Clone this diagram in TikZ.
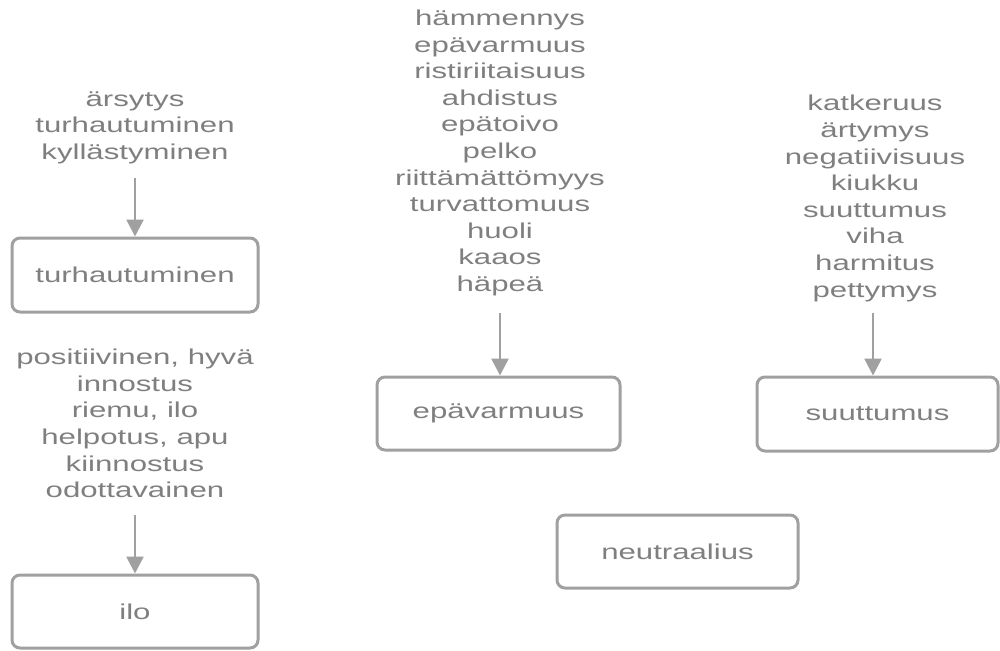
\documentclass[tikz,border=0pt]{standalone}
\usepackage{fontspec}
\setmainfont{Liberation Sans}[FakeStretch=1.45]
\usetikzlibrary{arrows.meta}
\definecolor{txt}{HTML}{7F7F7F}
\definecolor{ln}{HTML}{A0A0A0}
\tikzset{
  lbl/.style={text=txt, align=center, inner sep=0pt, font=\fontsize{21.5}{26.6}\selectfont},
  emobox/.style={draw=ln, line width=3pt, rounded corners=8pt, text=txt, inner sep=0pt, font=\fontsize{21.5}{26.6}\selectfont},
  arr/.style={draw=ln, line width=2.5pt, -{Triangle[length=17pt,width=17pt]}}
}
\begin{document}
\begin{tikzpicture}[x=1pt,y=-1pt]
\useasboundingbox (0,0) rectangle (1000,650);
% boxes
\node[emobox, minimum width=246pt, minimum height=74pt] (b1) at (135,275) {turhautuminen};
\node[emobox, minimum width=246pt, minimum height=73pt] (b2) at (135,611.5) {ilo};
\node[emobox, minimum width=243pt, minimum height=73pt] (b3) at (498.5,413.5) {epävarmuus};
\node[emobox, minimum width=241pt, minimum height=74pt] (b4) at (877.5,414) {suuttumus};
\node[emobox, minimum width=241pt, minimum height=73pt] (b5) at (677.5,551.5) {neutraalius};
% text groups
\node[lbl] (t1) at (135,127.5) {ärsytys\\turhautuminen\\kyllästyminen};
\node[lbl] (t2) at (135,423.5) {positiivinen, hyvä\\innostus\\riemu, ilo\\helpotus, apu\\kiinnostus\\odottavainen};
\node[lbl] (t3) at (500,153) {hämmennys\\epävarmuus\\ristiriitaisuus\\ahdistus\\epätoivo\\pelko\\riittämättömyys\\turvattomuus\\huoli\\kaaos\\häpeä};
\node[lbl] (t4) at (875,198.5) {katkeruus\\ärtymys\\negatiivisuus\\kiukku\\suuttumus\\viha\\harmitus\\pettymys};
% arrows
\coordinate (a1) at (135,178);
\coordinate (a2) at (135,515);
\coordinate (a3) at (500,313);
\coordinate (a4) at (873,313);
\draw[arr] (a1) -- (a1 |- b1.north);
\draw[arr] (a2) -- (a2 |- b2.north);
\draw[arr] (a3) -- (a3 |- b3.north);
\draw[arr] (a4) -- (a4 |- b4.north);
\end{tikzpicture}
\end{document}
